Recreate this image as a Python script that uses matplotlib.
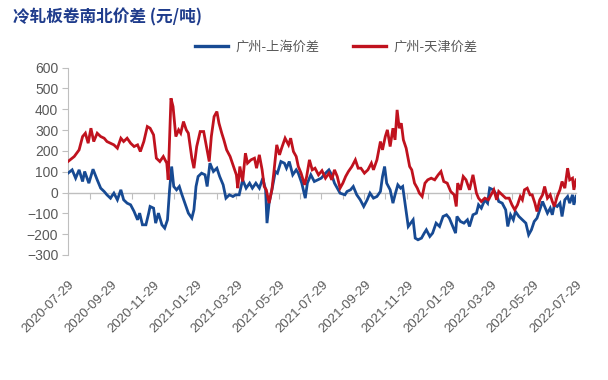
import matplotlib
matplotlib.use("Agg")
import matplotlib.pyplot as plt
import matplotlib.dates as mdates
import pandas as pd

# ---------------- data ----------------
start_date = "2020-07-29"
title_text = "冷轧板卷南北价差 (元/吨)"
series_names = ["广州-上海价差", "广州-天津价差"]

# days after start_date, and price spread (元/吨)
sh_days = [0, 6, 11, 16, 21, 24, 30, 36, 42, 47, 52, 56, 61, 66, 71, 76, 80, 85, 90, 95,
           100, 103, 107, 112, 116, 118, 123, 126, 130, 135, 139, 143, 146, 149, 152, 156,
           160, 163, 168, 173, 178, 181, 184, 187, 192, 197, 200, 204, 209, 214, 218, 223,
           227, 232, 237, 241, 246, 251, 256, 261, 265, 270, 275, 280, 284, 286, 289, 294,
           298, 301, 306, 311, 314, 318, 323, 328, 331, 336, 341, 344, 349, 354, 359, 364,
           370, 375, 379, 383, 387, 391, 398, 401, 406, 410, 415, 420, 425, 430, 434, 439,
           444, 449, 452, 455, 458, 463, 467, 470, 474, 478, 481, 485, 489, 496, 499, 503,
           508, 512, 515, 520, 524, 529, 534, 539, 544, 548, 553, 557, 559, 564, 569, 574,
           577, 582, 587, 590, 594, 599, 603, 606, 611, 616, 619, 624, 629, 632, 636, 640,
           643, 648, 653, 658, 662, 666, 670, 674, 678, 682, 685, 689, 693, 696, 699, 703,
           707, 710, 714, 718, 721, 725, 727, 730]
sh_vals = [93, 109, 69, 109, 53, 101, 45, 112, 61, 21, 5, -11, -27, -3, -35, 13, -35, -51, -59, -91,
           -131, -99, -155, -155, -99, -67, -75, -147, -99, -155, -171, -131, 13, 125, 29, 13,
           29, -3, -51, -99, -123, -83, 29, 77, 93, 85, 29, 141, 101, 117, 77, 37,
           -27, -11, -19, -11, -11, 61, 21, 45, 21, 45, 21, 69, 13, -147, -51, 29,
           101, 93, 149, 141, 117, 149, 85, 109, 93, 45, -27, 45, 85, 53, 61, 69,
           93, 109, 85, 45, 21, -3, -11, 5, 13, 29, -11, -35, -67, -35, -3, -27,
           -19, 5, 77, 125, 45, 13, -51, -11, 37, 21, 29, -67, -163, -131, -219, -227,
           -219, -195, -179, -211, -195, -147, -163, -115, -107, -123, -163, -195, -115, -139, -147, -131,
           -163, -107, -99, -59, -75, -35, -51, 21, 13, -11, -43, -51, -83, -163, -107, -131,
           -91, -115, -131, -147, -203, -179, -139, -123, -83, -43, -67, -99, -75, -107, -59, -67,
           -51, -115, -35, -19, -51, -11, -59, -19]

tj_days = [0, 9, 16, 21, 25, 29, 33, 37, 42, 47, 52, 56, 66, 71, 76, 80, 85, 90, 95, 100,
           104, 109, 114, 118, 123, 127, 132, 137, 142, 144, 148, 151, 155, 159, 162, 166,
           170, 173, 178, 181, 185, 190, 195, 199, 203, 206, 210, 214, 217, 221, 224, 228,
           233, 238, 242, 244, 247, 251, 255, 258, 263, 268, 271, 275, 279, 282, 285, 289,
           293, 296, 300, 304, 307, 312, 317, 320, 324, 328, 331, 335, 340, 343, 347, 351,
           355, 360, 365, 370, 375, 379, 383, 387, 391, 395, 399, 403, 408, 413, 417, 421,
           426, 431, 436, 439, 444, 449, 452, 456, 459, 463, 467, 470, 473, 476, 479, 482,
           486, 491, 494, 498, 502, 505, 509, 513, 517, 522, 527, 532, 536, 540, 545, 550,
           555, 558, 560, 564, 568, 572, 577, 582, 587, 590, 594, 599, 604, 608, 612, 616,
           619, 624, 629, 634, 638, 642, 646, 650, 653, 656, 660, 664, 667, 671, 674, 678,
           682, 685, 689, 693, 696, 699, 703, 707, 710, 714, 718, 721, 725, 727, 730]
tj_vals = [149, 173, 205, 269, 285, 237, 309, 245, 285, 269, 261, 245, 229, 213, 261, 245, 261, 237, 221, 229,
           197, 245, 317, 309, 277, 165, 149, 173, 141, 61, 453, 413, 269, 301, 285, 341,
           301, 285, 165, 117, 221, 293, 293, 221, 149, 269, 365, 389, 333, 285, 253, 205,
           173, 125, 85, 21, 125, 53, 189, 141, 157, 165, 117, 181, 109, 29, 13, -51,
           13, 101, 229, 181, 213, 261, 229, 261, 197, 173, 125, 93, 37, 77, 157, 109,
           117, 85, 105, 69, 93, 61, 109, 77, 21, 45, 77, 101, 125, 157, 117, 117,
           93, 109, 141, 109, 157, 245, 205, 269, 301, 221, 309, 253, 397, 309, 333, 253,
           213, 125, 109, 45, 21, -3, -19, 45, 61, 69, 61, 85, 101, 53, 45, 5,
           -11, -67, 45, 13, 77, 61, 13, 85, -3, -27, -43, -27, -35, -11, 13, -35,
           5, -11, -27, -27, -59, -83, -59, -19, -35, 13, 21, -11, -11, -51, -91, -35,
           -11, 29, -27, -11, -43, -67, -19, 13, 53, 21, 117, 61, 69, 13, 61]

tick_labels = ["2020-07-29", "2020-09-29", "2020-11-29", "2021-01-29", "2021-03-29",
               "2021-05-29", "2021-07-29", "2021-09-29", "2021-11-29", "2022-01-29",
               "2022-03-29", "2022-05-29", "2022-07-29"]
y_ticks = [-300, -200, -100, 0, 100, 200, 300, 400, 500, 600]

# ---------------- style ----------------
plt.rcParams['font.family'] = ['Liberation Sans', 'Noto Sans CJK SC', 'DejaVu Sans']
BLUE = "#174a93"
RED = "#c0121e"
GRID = "#bfbfbf"
TXT = "#595959"

t0 = pd.Timestamp(start_date)
sh_dates = t0 + pd.to_timedelta(sh_days, unit="D")
tj_dates = t0 + pd.to_timedelta(tj_days, unit="D")

fig = plt.figure(figsize=(6.08, 3.80), dpi=100)
ax = fig.add_axes([0.1118, 0.329, 0.8355, 0.493])

l1, = ax.plot(sh_dates, sh_vals, color=BLUE, lw=2.0, solid_joinstyle="miter", zorder=3)
l2, = ax.plot(tj_dates, tj_vals, color=RED, lw=2.0, solid_joinstyle="miter", zorder=3)

xmin, xmax = mdates.date2num(pd.Timestamp(tick_labels[0])), mdates.date2num(pd.Timestamp(tick_labels[-1]))
ax.set_xlim(xmin, xmax)
ax.set_ylim(y_ticks[0], y_ticks[-1])
ax.set_yticks(y_ticks)
ax.tick_params(axis='y', colors=GRID, labelcolor=TXT, labelsize=10, length=4, width=0.8, pad=3)

ax.set_xticks([mdates.date2num(pd.Timestamp(s)) for s in tick_labels])
ax.set_xticklabels(tick_labels, rotation=45, ha='right', rotation_mode='anchor',
                   color=TXT, fontsize=9.5)
ax.tick_params(axis='x', length=0, pad=17)

for s in ['top', 'right', 'bottom']:
    ax.spines[s].set_visible(False)
ax.spines['left'].set_color(GRID)
ax.spines['left'].set_linewidth(0.8)

# zero line with monthly tick marks
ax2 = ax.twiny()
ax2.set_xlim(xmin, xmax)
month_ticks = pd.date_range(start_date, periods=25, freq=pd.DateOffset(months=1))
ax2.set_xticks(mdates.date2num(month_ticks))
ax2.xaxis.set_ticks_position('bottom')
ax2.spines['bottom'].set_position(('data', 0))
ax2.spines['bottom'].set_color(GRID)
ax2.spines['bottom'].set_linewidth(1.0)
for s in ['top', 'right', 'left']:
    ax2.spines[s].set_visible(False)
ax2.tick_params(axis='x', which='both', direction='out', length=4, color=GRID,
                labelbottom=False, labeltop=False, top=False)
ax2.set_zorder(ax.get_zorder() - 1)
ax.patch.set_visible(False)

fig.text(0.021, 0.955, title_text, color="#1f3c8c", fontsize=12, fontweight='bold',
         family=['Noto Sans CJK SC', 'DejaVu Sans'], va='center', ha='left')

leg = fig.legend([l1, l2], series_names, loc='center', bbox_to_anchor=(0.553, 0.876),
                 ncol=2, frameon=False, handlelength=2.5, columnspacing=2.6,
                 handletextpad=0.5, prop={'family': ['Noto Sans CJK SC', 'DejaVu Sans'], 'size': 9.5})
for t in leg.get_texts():
    t.set_color(TXT)
for h in leg.legend_handles:
    h.set_linewidth(2.4)

fig.savefig("out.png", dpi=100)
